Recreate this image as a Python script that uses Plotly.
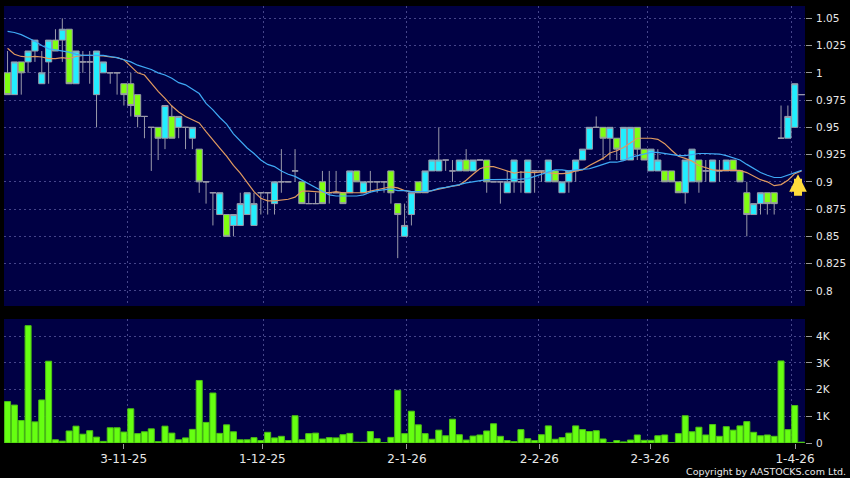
import plotly.graph_objects as go

opens = [1.00,0.98,1.01,1.01,1.02,0.99,1.01,1.03,1.03,1.04,0.99,1.01,1.01,0.98,1.00,1.00,1.00,0.99,0.99,0.98,0.96,0.95,0.95,0.94,0.96,0.95,0.95,0.94,0.93,0.90,
         0.89,0.87,0.87,0.86,0.86,0.87,0.86,0.89,0.89,0.88,0.90,0.90,0.91,0.90,0.88,0.88,0.90,0.89,0.89,0.89,0.89,0.91,0.89,0.90,0.90,0.90,0.91,0.88,0.85,0.87,
         0.90,0.89,0.91,0.91,0.92,0.91,0.91,0.92,0.91,0.92,0.92,0.90,0.90,0.89,0.90,0.90,0.89,0.91,0.91,0.90,0.91,0.89,0.90,0.91,0.92,0.93,0.95,0.95,0.94,0.94,
         0.92,0.92,0.95,0.93,0.91,0.91,0.91,0.91,0.90,0.89,0.90,0.92,0.91,0.90,0.91,0.91,0.92,0.91,0.89,0.87,0.88,0.89,0.89,0.94,0.94,0.95,0.98]
highs = [1.02,1.01,1.01,1.02,1.03,1.02,1.03,1.04,1.05,1.04,1.02,1.02,1.02,1.02,1.01,1.00,1.00,0.99,1.00,0.98,0.96,0.95,0.95,0.97,0.97,0.96,0.95,0.95,0.93,0.90,
         0.89,0.89,0.87,0.87,0.89,0.89,0.89,0.89,0.89,0.90,0.93,0.90,0.93,0.90,0.89,0.89,0.91,0.91,0.91,0.89,0.91,0.91,0.90,0.91,0.90,0.90,0.91,0.88,0.88,0.89,
         0.90,0.91,0.92,0.95,0.92,0.92,0.92,0.93,0.92,0.92,0.92,0.90,0.90,0.91,0.92,0.91,0.92,0.91,0.91,0.92,0.91,0.90,0.91,0.92,0.93,0.95,0.96,0.95,0.95,0.94,
         0.95,0.95,0.95,0.93,0.93,0.93,0.91,0.91,0.90,0.92,0.93,0.92,0.92,0.92,0.92,0.92,0.92,0.91,0.90,0.88,0.89,0.89,0.89,0.97,0.97,0.99,0.98]
lows = [0.98,0.98,0.98,1.00,1.01,0.99,0.99,1.02,1.01,0.99,0.99,1.00,0.99,0.95,1.00,0.99,0.98,0.97,0.96,0.95,0.94,0.91,0.92,0.93,0.94,0.94,0.93,0.93,0.89,0.88,
        0.86,0.87,0.85,0.85,0.86,0.87,0.86,0.87,0.87,0.87,0.89,0.90,0.90,0.88,0.88,0.88,0.88,0.88,0.89,0.88,0.89,0.90,0.89,0.89,0.89,0.89,0.88,0.83,0.85,0.86,
        0.89,0.89,0.91,0.91,0.91,0.90,0.91,0.91,0.91,0.92,0.89,0.90,0.88,0.89,0.89,0.89,0.89,0.89,0.90,0.90,0.90,0.89,0.89,0.90,0.92,0.93,0.95,0.92,0.92,0.92,
        0.92,0.92,0.92,0.92,0.91,0.91,0.90,0.90,0.89,0.88,0.90,0.89,0.90,0.90,0.90,0.91,0.91,0.90,0.85,0.87,0.87,0.87,0.87,0.94,0.94,0.95,0.98]
closes = [0.98,1.01,1.00,1.02,1.03,1.00,1.03,1.02,1.04,0.99,1.02,1.01,1.01,1.02,1.01,1.00,1.00,0.98,0.97,0.96,0.96,0.95,0.94,0.97,0.94,0.96,0.95,0.95,0.90,0.90,
          0.89,0.89,0.85,0.87,0.88,0.89,0.88,0.89,0.89,0.90,0.90,0.90,0.91,0.88,0.88,0.88,0.88,0.89,0.89,0.88,0.91,0.90,0.90,0.90,0.90,0.90,0.89,0.87,0.86,0.89,
          0.89,0.91,0.92,0.92,0.92,0.91,0.92,0.91,0.92,0.92,0.90,0.90,0.90,0.90,0.92,0.90,0.92,0.91,0.91,0.92,0.90,0.90,0.91,0.92,0.93,0.95,0.95,0.94,0.95,0.93,
          0.95,0.95,0.93,0.92,0.93,0.92,0.90,0.90,0.89,0.92,0.93,0.90,0.91,0.92,0.91,0.92,0.91,0.90,0.87,0.88,0.89,0.88,0.88,0.94,0.96,0.99,0.98]

ma_blue = [1.038,1.037,1.035,1.032,1.029,1.025,1.022,1.021,1.020,1.019,1.017,1.016,1.016,1.016,1.016,1.015,1.014,1.012,1.010,1.007,1.005,1.003,1.000,0.998,0.995,0.991,0.989,0.985,0.981,0.972,
           0.966,0.959,0.953,0.944,0.937,0.931,0.926,0.920,0.916,0.914,0.910,0.907,0.905,0.9015,0.898,0.8945,0.891,0.888,0.887,0.887,0.887,0.887,0.888,0.8905,0.892,0.893,0.8935,0.892,0.892,0.891,
           0.891,0.891,0.892,0.894,0.895,0.896,0.8975,0.899,0.900,0.9015,0.902,0.902,0.902,0.902,0.9025,0.9025,0.903,0.905,0.907,0.909,0.911,0.911,0.910,0.911,0.9115,0.912,0.914,0.916,0.918,0.918,
           0.9195,0.9225,0.924,0.925,0.927,0.927,0.926,0.925,0.924,0.924,0.925,0.926,0.926,0.926,0.9255,0.924,0.922,0.920,0.916,0.912,0.9085,0.906,0.904,0.904,0.906,0.908,0.9105]
ma_orange = [1.0225,1.017,1.015,1.0145,1.015,1.0145,1.013,1.013,1.014,1.013,1.015,1.016,1.016,1.016,1.0155,1.0145,1.014,1.012,1.006,1.000,0.998,0.990,0.983,0.9765,0.9695,0.964,0.960,0.957,0.954,0.946,
             0.938,0.931,0.9235,0.915,0.908,0.900,0.891,0.885,0.8825,0.8825,0.883,0.884,0.886,0.8915,0.8915,0.891,0.890,0.890,0.891,0.890,0.890,0.890,0.890,0.8915,0.893,0.8945,0.8955,0.8945,0.892,0.891,
             0.891,0.8905,0.892,0.8935,0.895,0.896,0.897,0.9015,0.907,0.912,0.914,0.914,0.912,0.910,0.908,0.909,0.9085,0.9085,0.909,0.908,0.9075,0.9075,0.908,0.910,0.911,0.915,0.918,0.9215,0.9265,0.9285,
             0.9315,0.936,0.940,0.940,0.940,0.939,0.935,0.929,0.9235,0.9215,0.919,0.915,0.913,0.911,0.9105,0.9105,0.9105,0.9105,0.9085,0.905,0.902,0.900,0.8965,0.8975,0.9015,0.9075,0.910]

volumes_k = [1.55,1.42,0.84,4.39,0.79,1.61,3.06,0.12,0.07,0.45,0.63,0.33,0.46,0.22,0.06,0.57,0.57,0.41,1.28,0.35,0.42,0.53,0.05,0.63,0.37,0.12,0.19,0.51,2.34,0.77,
             1.87,0.36,0.68,0.42,0.12,0.12,0.20,0.09,0.40,0.19,0.25,0.09,1.02,0.12,0.35,0.37,0.15,0.20,0.19,0.31,0.36,0.03,0.03,0.43,0.16,0.01,0.21,1.97,0.35,1.19,
             0.68,0.35,0.14,0.48,0.27,0.89,0.31,0.11,0.26,0.30,0.45,0.72,0.25,0.09,0.05,0.50,0.16,0.09,0.31,0.64,0.14,0.20,0.37,0.64,0.50,0.43,0.46,0.15,0.01,0.09,
             0.04,0.11,0.30,0.10,0.10,0.27,0.30,0.01,0.35,1.02,0.42,0.59,0.30,0.69,0.25,0.61,0.48,0.64,0.80,0.40,0.27,0.30,0.25,3.07,0.50,1.40,0.03]

x_index = list(range(len(closes)))

price_ticks = [1.05,1.025,1.0,0.975,0.95,0.925,0.9,0.875,0.85,0.825,0.8]
price_tick_labels = ["1.05","1.025","1","0.975","0.95","0.925","0.9","0.875","0.85","0.825","0.8"]
volume_ticks = [0,1,2,3,4]
volume_tick_labels = ["0","1K","2K","3K","4K"]
date_ticks = [16.96,37.22,58.35,77.69,93.86,115.04]
date_labels = ["3-11-25","1-12-25","2-1-26","2-2-26","2-3-26","1-4-26"]
date_grid = [17.47,37.44,58.35,77.5,93.47,114.53]

BG = "#000044"
GRID = "#45458a"
WICK = "#9a9aaa"
TEXT = "#e8e8e8"
FONT = "DejaVu Sans"
X_RANGE = [-0.52, 116.5]
DASH = "2px,3px"

fig = go.Figure()
fig.add_trace(go.Candlestick(
    x=x_index, open=opens, high=highs, low=lows, close=closes,
    increasing=dict(line=dict(color=WICK, width=1), fillcolor="#22EEFF"),
    decreasing=dict(line=dict(color=WICK, width=1), fillcolor="#80FF10"),
    whiskerwidth=0, hoverinfo="skip", showlegend=False, xaxis="x", yaxis="y"))
fig.add_trace(go.Scatter(x=x_index, y=ma_orange, mode="lines",
                         line=dict(color="#E09A60", width=1.2), hoverinfo="skip",
                         showlegend=False, xaxis="x", yaxis="y"))
fig.add_trace(go.Scatter(x=x_index, y=ma_blue, mode="lines",
                         line=dict(color="#3FA9F5", width=1.2), hoverinfo="skip",
                         showlegend=False, xaxis="x", yaxis="y"))
fig.add_trace(go.Bar(x=x_index, y=volumes_k,
                     marker=dict(color="#66FF11", line=dict(color="#4CC214", width=1)),
                     width=0.88, hoverinfo="skip", showlegend=False, xaxis="x2", yaxis="y2"))

grid_minor = dict(tickvals=date_grid, showgrid=True, gridcolor=GRID, griddash=DASH, gridwidth=1, ticks="")
fig.update_layout(
    width=850, height=478, autosize=False,
    margin=dict(l=4, r=43, t=6, b=35, pad=0),
    paper_bgcolor="#000000", plot_bgcolor=BG,
    font=dict(family=FONT, color=TEXT, size=11),
    boxgap=0.1, boxgroupgap=0, bargap=0.12, showlegend=False,
    xaxis=dict(domain=[0, 1], range=X_RANGE, anchor="y", showgrid=False, zeroline=False,
               showticklabels=False, ticks="", tickvals=[], rangeslider=dict(visible=False),
               minor=grid_minor),
    xaxis2=dict(domain=[0, 1], range=X_RANGE, anchor="y2", showgrid=False, zeroline=False,
                tickmode="array", tickvals=date_ticks, ticktext=date_labels,
                ticks="outside", ticklen=5, tickcolor="#999999",
                tickfont=dict(family=FONT, size=12, color=TEXT),
                minor=grid_minor),
    yaxis=dict(domain=[137/437, 1], range=[0.7861, 1.0613], side="right", anchor="x",
               tickmode="array", tickvals=price_ticks, ticktext=price_tick_labels,
               showgrid=True, gridcolor=GRID, griddash=DASH, gridwidth=1, zeroline=False,
               ticks="outside", ticklen=6, tickcolor="#999999", ticklabelstandoff=2,
               tickfont=dict(family=FONT, size=10.5, color=TEXT)),
    yaxis2=dict(domain=[0, 124/437], range=[0, 4.64], side="right", anchor="x2",
                tickmode="array", tickvals=volume_ticks, ticktext=volume_tick_labels,
                showgrid=True, gridcolor=GRID, griddash=DASH, gridwidth=1, zeroline=False,
                ticks="outside", ticklen=6, tickcolor="#999999", ticklabelstandoff=2,
                tickfont=dict(family=FONT, size=10.5, color=TEXT)),
    annotations=[
        dict(x=115.48, y=0.907, xref="x", yref="y", text="", showarrow=True, ax=0, ay=23,
             arrowcolor="#FFDC3C", arrowwidth=8, arrowhead=2, arrowsize=0.44),
        dict(x=1.0, y=0, xref="paper", yref="paper", xanchor="right", yanchor="top", xshift=43, yshift=-21,
             text="Copyright by AASTOCKS.com Ltd.", showarrow=False,
             font=dict(family=FONT, size=9.5, color=TEXT)),
    ],
)

fig.write_html("out.html", config=dict(displayModeBar=False),
               post_script="document.body.style.margin='0';document.body.style.background='#000';document.body.style.overflow='hidden';")
